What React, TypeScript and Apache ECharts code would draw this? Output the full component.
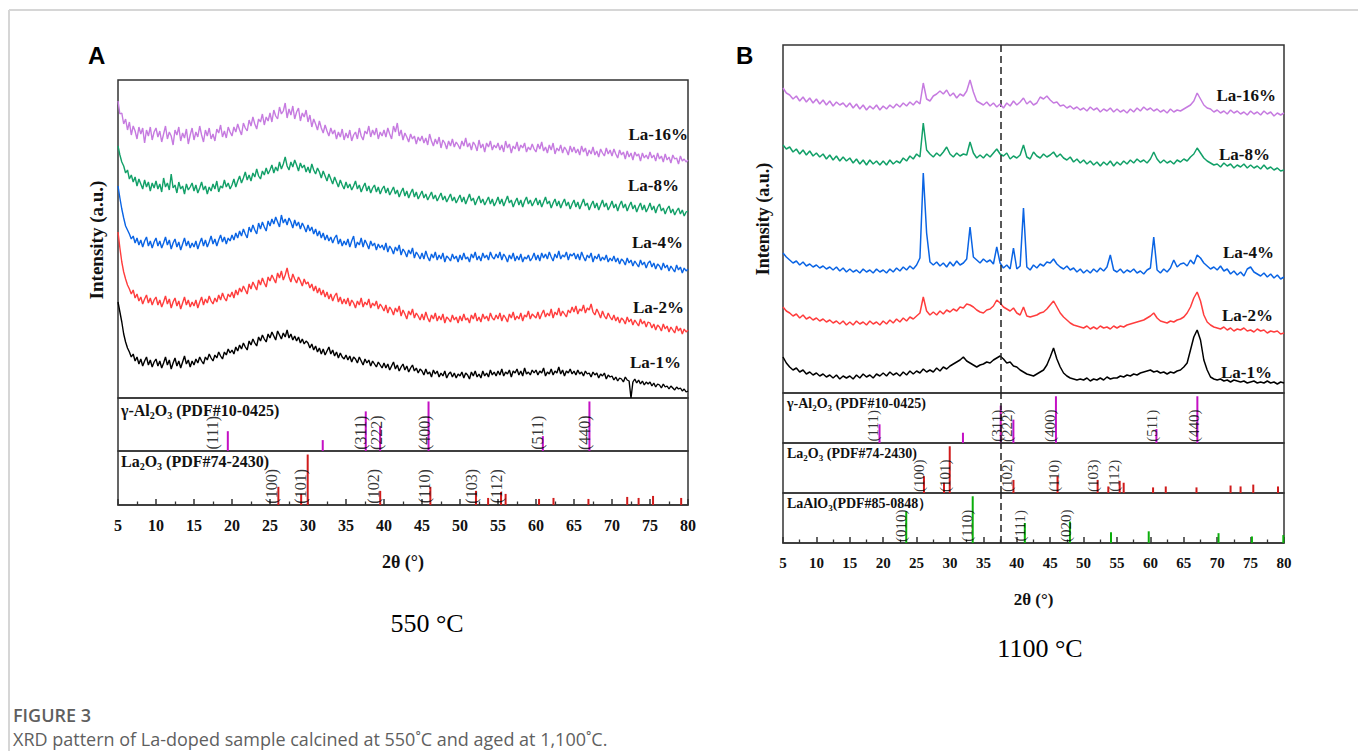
import { useEffect, useRef } from "react";
import * as echarts from "echarts";

// 2θ sampling: panel A every 0.25° from 5°, panel B every 0.5° from 5°
const TWO_THETA_START = 5;
const STEP_A = 0.25;
const STEP_B = 0.5;

// ---------- Panel A (550 °C), intensity in a.u. ----------
const aLa16 = [
  297, 284, 285, 274, 279, 268, 276, 263, 272, 267, 259, 271, 264, 270, 255, 268, 262, 271, 258, 266,
  270, 261, 267, 256, 264, 272, 259, 266, 262, 253, 268, 263, 271, 257, 265, 260, 269, 254, 263, 270,
  258, 266, 261, 272, 263, 256, 268, 262, 270, 259, 264, 257, 269, 265, 273, 261, 267, 260, 271, 266,
  262, 271, 266, 274, 268, 263, 275, 270, 267, 278, 272, 281, 274, 269, 279, 276, 284, 273, 281, 277,
  285, 276, 288, 282, 279, 291, 284, 287, 295, 280, 289, 283, 292, 279, 286, 290, 277, 285, 281, 288,
  276, 283, 271, 279, 274, 268, 277, 270, 265, 273, 267, 262, 270, 264, 268, 259, 266, 261, 269, 258,
  265, 260, 268, 257, 263, 266, 259, 270, 262, 258, 267, 264, 272, 261, 268, 263, 270, 259, 266, 262,
  268, 261, 270, 264, 259, 272, 266, 275, 262, 268, 258, 265, 261, 256, 264, 259, 262, 254, 261, 257,
  262, 255, 260, 253, 264, 257, 252, 259, 254, 261, 250, 258, 255, 249, 257, 252, 259, 251, 256, 253,
  249, 257, 252, 260, 251, 255, 248, 256, 253, 247, 258, 250, 254, 246, 255, 251, 257, 248, 253, 250,
  255, 248, 253, 246, 257, 250, 254, 245, 252, 249, 256, 247, 253, 250, 255, 246, 251, 248, 254, 249,
  246, 254, 249, 256, 247, 251, 245, 253, 248, 255, 244, 250, 247, 253, 245, 251, 248, 243, 252, 246,
  251, 245, 249, 243, 252, 246, 250, 242, 248, 244, 251, 243, 247, 241, 249, 245, 242, 250, 244, 248,
  242, 249, 244, 240, 248, 243, 246, 239, 247, 241, 245, 238, 246, 242, 244, 237, 245, 240, 243, 239,
  246, 240, 243, 237, 245, 239, 242, 236, 244, 238, 241, 235, 243, 239, 240, 234, 242, 237, 239, 236,
  238,
];
const aLa8 = [
  252, 243, 236, 232, 225, 228, 219, 223, 216, 221, 212, 219, 214, 209, 218, 211, 216, 207, 215, 210,
  217, 209, 214, 206, 220, 211, 215, 208, 224, 210, 213, 205, 216, 209, 212, 204, 214, 208, 211, 215,
  207, 213, 205, 210, 216, 208, 212, 204, 211, 207, 214, 209, 217, 206, 212, 210, 218, 211, 215, 209,
  213, 219, 211, 217, 222, 215, 220, 226, 218, 223, 217, 225, 221, 229, 222, 219, 227, 223, 230, 224,
  228, 233, 225, 231, 227, 236, 229, 234, 241, 232, 228, 236, 231, 238, 233, 227, 235, 230, 233, 226,
  231, 225, 234, 228, 224, 230, 226, 220, 227, 222, 217, 224, 219, 214, 221, 216, 211, 218, 213, 209,
  216, 210, 214, 208, 212, 217, 209, 213, 206, 211, 215, 207, 212, 205, 210, 213, 206, 211, 204, 209,
  212, 205, 210, 203, 207, 211, 204, 208, 201, 206, 210, 202, 207, 200, 205, 209, 201, 206, 199, 203,
  207, 200, 204, 198, 202, 206, 199, 203, 197, 201, 205, 198, 202, 196, 200, 204, 197, 201, 195, 199,
  203, 196, 201, 194, 199, 204, 197, 200, 193, 198, 202, 195, 199, 193, 197, 201, 194, 199, 192, 196,
  201, 194, 199, 192, 197, 202, 195, 198, 191, 196, 200, 193, 198, 191, 197, 201, 194, 198, 192, 196,
  200, 193, 198, 191, 196, 201, 194, 197, 190, 195, 199, 192, 197, 190, 195, 199, 192, 196, 189, 194,
  198, 191, 196, 189, 194, 199, 192, 195, 188, 193, 197, 190, 195, 188, 193, 198, 191, 195, 188, 192,
  197, 190, 194, 187, 193, 197, 190, 194, 187, 192, 196, 189, 193, 186, 191, 195, 188, 193, 186, 190,
  195, 188, 192, 185, 191, 194, 187, 190, 184, 189, 192, 185, 189, 183, 187, 190, 184, 188, 182, 186,
  187,
];
const aLa4 = [
  212, 200, 189, 180, 172, 168, 164, 159, 162, 155, 160, 153, 158, 151, 157, 161, 152, 157, 150, 156,
  160, 152, 157, 150, 155, 161, 153, 158, 149, 155, 159, 151, 156, 148, 154, 160, 152, 157, 150, 155,
  151, 157, 149, 155, 160, 152, 158, 151, 156, 162, 154, 159, 152, 158, 163, 156, 161, 154, 160, 157,
  163, 158, 165, 160, 167, 162, 169, 164, 160, 171, 166, 173, 168, 164, 175, 169, 176, 171, 167, 177,
  172, 179, 174, 181, 176, 171, 183, 175, 179, 173, 180, 176, 170, 178, 172, 176, 169, 175, 171, 166,
  173, 167, 171, 164, 169, 162, 167, 160, 165, 158, 163, 157, 161, 155, 160, 163, 154, 159, 152, 157,
  153, 159, 151, 157, 162, 150, 156, 153, 160, 151, 158, 154, 149, 157, 152, 155, 148, 154, 150, 153,
  148, 155, 146, 152, 149, 144, 151, 147, 153, 143, 149, 146, 141, 148, 144, 150, 140, 146, 143, 139,
  145, 139, 147, 141, 137, 144, 140, 146, 138, 143, 139, 145, 136, 142, 140, 137, 144, 139, 142, 136,
  143, 138, 145, 139, 141, 136, 144, 140, 146, 138, 142, 137, 145, 140, 143, 138, 146, 141, 139, 144,
  140, 146, 138, 144, 141, 136, 143, 139, 145, 137, 142, 138, 144, 136, 141, 139, 143, 137, 140, 145,
  138, 143, 137, 145, 140, 144, 139, 146, 141, 137, 144, 140, 147, 139, 143, 141, 146, 138, 144, 142,
  145, 139, 144, 138, 146, 141, 137, 143, 140, 145, 136, 142, 139, 144, 137, 141, 138, 143, 136, 140,
  137, 142, 136, 140, 134, 139, 137, 133, 140, 135, 138, 132, 137, 134, 131, 138, 133, 136, 130, 135,
  137, 131, 135, 129, 134, 132, 128, 135, 130, 133, 127, 132, 129, 126, 133, 128, 131, 125, 130, 127,
  129,
];
const aLa2 = [
  166, 150, 136, 126, 119, 113, 109, 104, 108, 100, 104, 97, 101, 94, 99, 103, 95, 100, 93, 98,
  101, 93, 98, 91, 96, 102, 94, 99, 90, 96, 100, 92, 97, 89, 95, 101, 93, 98, 91, 96,
  92, 98, 90, 96, 101, 93, 99, 95, 102, 97, 94, 100, 96, 103, 98, 105, 100, 97, 104, 101,
  106, 100, 108, 103, 110, 106, 112, 108, 104, 114, 109, 116, 112, 108, 118, 113, 120, 115, 111, 121,
  117, 123, 119, 115, 125, 120, 127, 118, 123, 130, 121, 116, 124, 119, 115, 121, 117, 112, 119, 114,
  116, 110, 114, 107, 112, 105, 110, 103, 108, 101, 106, 99, 104, 97, 102, 105, 96, 101, 94, 99,
  94, 100, 92, 98, 95, 90, 97, 93, 100, 91, 96, 93, 99, 90, 95, 92, 97, 89, 94, 91,
  87, 93, 85, 91, 88, 83, 90, 86, 92, 82, 88, 84, 79, 87, 83, 89, 80, 85, 82, 78,
  84, 78, 86, 80, 76, 83, 79, 85, 77, 82, 78, 84, 75, 81, 79, 76, 83, 78, 81, 75,
  82, 77, 84, 78, 80, 75, 83, 79, 85, 77, 81, 76, 84, 79, 82, 77, 85, 80, 78, 83,
  79, 85, 77, 83, 80, 76, 84, 80, 86, 78, 82, 79, 85, 77, 83, 81, 87, 79, 84, 82,
  80, 86, 79, 84, 88, 81, 85, 82, 89, 80, 86, 83, 90, 82, 87, 84, 81, 88, 85, 91,
  86, 92, 84, 89, 87, 93, 85, 90, 88, 94, 86, 83, 89, 85, 80, 87, 82, 79, 85, 81,
  78, 83, 77, 81, 75, 80, 78, 74, 81, 76, 79, 73, 78, 75, 72, 79, 74, 77, 71, 76,
  75, 70, 74, 68, 73, 71, 67, 74, 69, 72, 66, 71, 68, 65, 72, 67, 70, 64, 69, 66,
  68,
];
const aLa1 = [
  96, 86, 76, 64, 56, 50, 46, 41, 44, 37, 41, 34, 39, 32, 37, 41, 33, 38, 31, 36,
  39, 32, 37, 30, 35, 41, 33, 38, 29, 35, 40, 32, 37, 30, 36, 42, 34, 38, 31, 37,
  33, 39, 35, 41, 37, 34, 41, 38, 44, 40, 37, 43, 40, 46, 42, 39, 46, 43, 49, 45,
  48, 44, 51, 47, 53, 49, 55, 51, 48, 57, 53, 59, 55, 52, 61, 57, 63, 59, 56, 64,
  60, 66, 62, 58, 67, 63, 59, 65, 61, 68, 60, 64, 58, 62, 57, 61, 55, 59, 54, 57,
  55, 50, 54, 48, 52, 46, 50, 44, 49, 43, 47, 51, 44, 48, 42, 46, 40, 45, 41, 39,
  43, 38, 42, 36, 41, 39, 35, 41, 37, 33, 39, 35, 38, 32, 37, 34, 31, 36, 33, 30,
  35, 30, 34, 28, 32, 36, 29, 33, 27, 31, 34, 28, 32, 26, 30, 33, 27, 30, 25, 29,
  27, 23, 29, 24, 26, 21, 28, 24, 27, 21, 25, 22, 27, 20, 24, 26, 21, 25, 20, 24,
  22, 26, 20, 25, 23, 19, 26, 22, 27, 21, 24, 20, 27, 22, 25, 21, 28, 23, 26, 22,
  27, 23, 29, 22, 26, 24, 28, 21, 27, 25, 29, 23, 27, 22, 30, 24, 26, 23, 28, 25,
  28, 23, 27, 25, 30, 22, 26, 24, 29, 23, 27, 25, 31, 24, 28, 22, 27, 25, 29, 24,
  27, 23, 28, 24, 26, 22, 27, 24, 25, 21, 26, 23, 25, 20, 24, 22, 25, 19, 23, 21,
  22, 18, 21, 17, 20, 19, 16, 21, 18, 17, 0, 16, 19, 15, 18, 14, 17, 13, 16, 14,
  16, 12, 15, 11, 14, 13, 10, 14, 11, 12, 9, 12, 10, 8, 11, 9, 10, 7, 9, 6,
  7,
];

// ---------- Panel B (1100 °C), intensity in a.u. ----------
const bLa16 = [
  305, 300, 298, 294, 297, 292, 296, 291, 295, 290,
  294, 289, 293, 288, 292, 287, 291, 288, 290, 286,
  290, 285, 289, 284, 288, 283, 287, 284, 288, 283,
  287, 284, 288, 285, 289, 286, 290, 287, 291, 288,
  292, 289, 310, 294, 292, 297, 299, 302, 299, 303,
  297, 300, 295, 299, 297, 302, 313, 301, 292, 290,
  288, 291, 287, 290, 286, 289, 285, 290, 287, 292,
  288, 291, 295, 289, 292, 288, 290, 296, 294, 297,
  293, 290, 291, 287, 288, 285, 287, 284, 286, 283,
  285, 282, 286, 283, 285, 281, 284, 282, 285, 281,
  284, 281, 283, 280, 284, 281, 285, 282, 286, 283,
  285, 282, 284, 281, 283, 280, 284, 281, 283, 282,
  284, 286, 288, 292, 300, 294, 288, 285, 284, 281,
  283, 280, 282, 279, 283, 280, 282, 279, 281, 278,
  282, 279, 281, 278, 282, 279, 281, 277, 280, 278,
  280,
];
const bLa8 = [
  248, 244, 246, 241, 244, 239, 243, 238, 242, 237,
  240, 236, 239, 234, 238, 233, 237, 232, 236, 232,
  235, 230, 234, 229, 233, 228, 233, 229, 232, 228,
  232, 228, 233, 229, 232, 230, 235, 232, 237, 234,
  239, 236, 270, 243, 239, 236, 240, 237, 241, 246,
  239, 236, 240, 237, 239, 238, 251, 240, 235, 238,
  235, 239, 236, 240, 244, 239, 237, 240, 234, 237,
  235, 238, 248, 236, 234, 241, 237, 235, 239, 236,
  238, 241, 236, 239, 235, 233, 236, 231, 234, 230,
  233, 229, 232, 228, 231, 227, 231, 228, 232, 227,
  231, 228, 232, 229, 233, 230, 234, 231, 233, 230,
  234, 241, 234, 230, 233, 230, 232, 229, 233, 231,
  234, 232, 236, 239, 245, 240, 235, 232, 230, 228,
  229, 226, 230, 227, 229, 225, 228, 226, 229, 225,
  228, 225, 227, 224, 228, 224, 226, 223, 225, 222,
  223,
];
const bLa4 = [
  140, 136, 133, 130, 132, 128, 131, 127, 129, 126,
  128, 125, 127, 124, 126, 123, 126, 122, 125, 121,
  124, 121, 123, 120, 124, 121, 123, 120, 124, 121,
  123, 120, 124, 121, 125, 122, 126, 123, 127, 124,
  128, 135, 220, 160, 131, 128, 131, 127, 130, 126,
  131, 127, 132, 128, 130, 134, 166, 136, 133, 130,
  134, 131, 133, 129, 146, 130, 125, 128, 124, 145,
  124, 127, 185, 126, 123, 128, 125, 129, 127, 131,
  130, 134, 129, 126, 124, 127, 123, 125, 121, 124,
  120, 123, 120, 124, 121, 125, 122, 126, 138, 123,
  121, 124, 120, 123, 121, 124, 120, 122, 119, 123,
  125, 156, 123, 120, 124, 121, 125, 133, 126, 129,
  130, 127, 133, 129, 138, 135, 130, 127, 124, 126,
  123, 127, 122, 124, 119, 122, 118, 121, 117, 124,
  126, 121, 119, 117, 120, 116, 119, 115, 118, 114,
  116,
];
const bLa2 = [
  86, 82, 80, 77, 79, 75, 78, 74, 76, 73,
  75, 72, 74, 71, 73, 70, 72, 69, 72, 68,
  71, 68, 72, 69, 71, 68, 72, 69, 71, 68,
  72, 69, 73, 70, 74, 71, 75, 72, 76, 74,
  77, 80, 96, 82, 78, 81, 78, 82, 79, 83,
  81, 84, 82, 86, 85, 89, 88, 86, 83, 81,
  80, 83, 84, 87, 93, 90, 86, 84, 82, 85,
  80, 78, 86, 77, 76, 77, 78, 80, 81, 84,
  88, 92, 86, 80, 76, 73, 70, 68, 67, 66,
  65, 67, 64, 66, 64, 67, 65, 66, 64, 67,
  65, 67, 66, 68, 69, 70, 71, 72, 73, 75,
  77, 80, 75, 72, 71, 70, 72, 71, 73, 74,
  76, 80, 86, 95, 101, 92, 78, 71, 68, 66,
  65, 64, 66, 63, 65, 62, 64, 63, 65, 62,
  63, 61, 64, 62, 63, 60, 62, 61, 62, 59,
  60,
];
const bLa1 = [
  36, 30, 26, 23, 25, 21, 23, 19, 21, 18,
  20, 17, 19, 16, 18, 15, 18, 14, 17, 15,
  17, 14, 18, 15, 19, 16, 18, 15, 19, 17,
  20, 17, 21, 18, 20, 17, 21, 18, 22, 19,
  22, 20, 24, 21, 23, 21, 25, 22, 26, 24,
  27, 29, 31, 33, 36, 32, 30, 28, 26, 28,
  29, 31, 30, 33, 35, 37, 34, 30, 31, 27,
  26, 23, 21, 19, 18, 17, 19, 21, 23, 28,
  36, 45, 34, 26, 20, 17, 15, 14, 13, 14,
  13, 15, 12, 14, 13, 15, 13, 16, 14, 15,
  15, 17, 16, 18, 17, 19, 18, 20, 21, 22,
  23, 21, 22, 20, 21, 19, 21, 20, 22, 23,
  26, 30, 43, 56, 63, 53, 33, 23, 16, 14,
  13, 14, 12, 13, 11, 13, 12, 11, 12, 10,
  11, 12, 10, 11, 10, 12, 10, 11, 9, 11,
  10,
];

// ---------- Reference patterns: [2θ, relative intensity %] ----------
const gammaAl2O3Sticks = [
  [19.45, 40], [31.94, 22], [37.6, 80], [39.49, 50], [45.86, 100], [60.9, 30], [67.03, 100],
];
const la2O3Sticks = [
  [26.1, 36], [29.1, 22], [29.96, 100], [39.5, 28], [46.1, 36], [52.1, 28], [53.7, 14],
  [55.4, 26], [56.0, 22], [60.4, 12], [62.3, 14], [66.9, 12], [72.0, 16], [73.5, 14],
  [75.4, 18], [79.1, 14],
];
const laAlO3Sticks = [
  [23.45, 68], [33.4, 100], [41.2, 43], [47.95, 46], [54.1, 23], [59.75, 25],
  [70.2, 21], [75.2, 14], [79.9, 17],
];

// Miller-index labels: [text, 2θ where the label sits]
const gammaLabelsA = [["(111)", 17.4], ["(311)", 36.9], ["(222)", 39.0], ["(400)", 45.3], ["(511)", 60.2], ["(440)", 66.4]];
const la2O3LabelsA = [["(100)", 25.2], ["(101)", 29.0], ["(102)", 38.6], ["(110)", 45.3], ["(103)", 51.5], ["(112)", 54.8]];
const gammaLabelsB = [["(111)", 18.5], ["(311)", 37.0], ["(222)", 38.6], ["(400)", 45.0], ["(511)", 60.2], ["(440)", 66.5]];
const la2O3LabelsB = [["(100)", 25.4], ["(101)", 29.3], ["(102)", 38.5], ["(110)", 45.5], ["(103)", 51.4], ["(112)", 54.5]];
const laAlO3LabelsB = [["(010)", 22.6], ["(110)", 32.6], ["(111)", 40.5], ["(020)", 47.3]];

const sampleNames = ["La-16%", "La-8%", "La-4%", "La-2%", "La-1%"];
const xTickMin = 5;
const xTickMax = 80;
const xTickInterval = 5;
const dashedLine2Theta = 37.66;

const SERIF = "'Liberation Serif', 'Times New Roman', serif";
const SANS = "'Liberation Sans', Arial, sans-serif";
const COLORS = ["#c67be0", "#12a068", "#0a64e4", "#ff3d3d", "#000000"];
const GAMMA_COLOR = "#c410c4";
const LA2O3_COLOR = "#d01c1c";
const LAALO3_COLOR = "#0aae0a";

function toPairs(vals: number[], step: number) {
  return vals.map((v, i) => [TWO_THETA_START + i * step, v]);
}

export default function App() {
  const ref = useRef<HTMLDivElement>(null);

  useEffect(() => {
    document.body.style.margin = "0";
    if (!ref.current) return;
    const chart = echarts.init(ref.current, null, { renderer: "svg" });

    const grids = [
      { left: 118, top: 80, width: 570, height: 318 },
      { left: 118, top: 398, width: 570, height: 53 },
      { left: 118, top: 451, width: 570, height: 54 },
      { left: 783, top: 45, width: 501, height: 348 },
      { left: 783, top: 393, width: 501, height: 50 },
      { left: 783, top: 443, width: 501, height: 50 },
      { left: 783, top: 493, width: 501, height: 50 },
    ].map((g) => ({ ...g, show: true, borderColor: "#333", borderWidth: 1.5, backgroundColor: "transparent" }));

    const bottomAxes: Record<number, { font: number; name: number }> = { 2: { font: 16, name: 18 }, 6: { font: 15, name: 17 } };
    const xAxis = grids.map((_, i) => {
      const b = bottomAxes[i];
      return {
        type: "value",
        gridIndex: i,
        min: xTickMin,
        max: xTickMax,
        interval: xTickInterval,
        show: !!b,
        name: b ? "2θ (°)" : "",
        nameLocation: "middle",
        nameGap: 48,
        nameTextStyle: { fontFamily: SERIF, fontWeight: "bold", fontSize: b ? b.name : 12, color: "#111" },
        axisLine: { show: true, lineStyle: { color: "#333", width: 1.5 } },
        axisTick: { show: true, inside: true, length: 6, lineStyle: { color: "#333", width: 1.5 } },
        minorTick: { show: true, splitNumber: 2, length: 3.5, lineStyle: { color: "#333", width: 1.3 } },
        splitLine: { show: false },
        axisLabel: { show: true, margin: 12, fontFamily: SERIF, fontWeight: "bold", fontSize: b ? b.font : 12, color: "#111" },
      };
    });
    const yMax = [318, 107, 107, 348, 107, 107, 107];
    const yAxis = yMax.map((m, i) => ({ type: "value", gridIndex: i, min: 0, max: m, show: false }));

    const dashedMark = {
      silent: true,
      symbol: ["none", "none"],
      label: { show: false },
      lineStyle: { type: [7, 4], color: "#222", width: 1.5 },
      data: [{ xAxis: dashedLine2Theta }],
    };

    const series: any[] = [];
    const aData = [aLa16, aLa8, aLa4, aLa2, aLa1];
    const bData = [bLa16, bLa8, bLa4, bLa2, bLa1];
    aData.forEach((d, k) =>
      series.push({
        type: "line", name: "A " + sampleNames[k], xAxisIndex: 0, yAxisIndex: 0, data: toPairs(d, STEP_A),
        showSymbol: false, lineStyle: { color: COLORS[k], width: 1.4 }, itemStyle: { color: COLORS[k] }, z: 5 - k,
      })
    );
    bData.forEach((d, k) =>
      series.push({
        type: "line", name: "B " + sampleNames[k], xAxisIndex: 3, yAxisIndex: 3, data: toPairs(d, STEP_B),
        showSymbol: false, lineStyle: { color: COLORS[k], width: 1.5 }, itemStyle: { color: COLORS[k] }, z: 5 - k,
        markLine: k === 0 ? dashedMark : undefined,
      })
    );

    const stickSeries = (data: number[][], idx: number, color: string, dashed: boolean) => ({
      type: "bar", xAxisIndex: idx, yAxisIndex: idx, data, barWidth: 2,
      itemStyle: { color }, markLine: dashed ? dashedMark : undefined, z: 3,
    });
    const labelSeries = (labels: (string | number)[][], idx: number, size: number) => ({
      type: "scatter", xAxisIndex: idx, yAxisIndex: idx, symbolSize: 1, itemStyle: { color: "transparent" },
      data: labels.map(([t, x]) => ({ name: t, value: [x, 37] })),
      label: { show: true, formatter: "{b}", rotate: 90, position: "inside", fontFamily: SERIF, fontSize: size, color: "#000" },
      z: 6,
    });

    series.push(stickSeries(gammaAl2O3Sticks, 1, GAMMA_COLOR, false));
    series.push(stickSeries(la2O3Sticks, 2, LA2O3_COLOR, false));
    series.push(stickSeries(gammaAl2O3Sticks, 4, GAMMA_COLOR, true));
    series.push(stickSeries(la2O3Sticks, 5, LA2O3_COLOR, true));
    series.push(stickSeries(laAlO3Sticks, 6, LAALO3_COLOR, true));
    series.push(labelSeries(gammaLabelsA, 1, 16));
    series.push(labelSeries(la2O3LabelsA, 2, 16));
    series.push(labelSeries(gammaLabelsB, 4, 15));
    series.push(labelSeries(la2O3LabelsB, 5, 15));
    series.push(labelSeries(laAlO3LabelsB, 6, 15));

    const txt = (x: number, y: number, text: string, o: any = {}) => ({
      type: "text", x, y, rotation: o.rotation || 0, z: 10,
      style: {
        text, fill: o.fill || "#111",
        fontFamily: o.fontFamily || SERIF, fontSize: o.fontSize || 16, fontWeight: o.fontWeight || "normal",
        align: o.align || "left", textAlign: o.align || "left",
        verticalAlign: "middle", textVerticalAlign: "middle",
        rich: o.rich,
      },
    });
    const formula = (x: number, y: number, parts: [string, boolean][], size: number) => {
      const rich = {
        n: { fontFamily: SERIF, fontWeight: "bold", fontSize: size, lineHeight: size + 4, fill: "#111" },
        s: { fontFamily: SERIF, fontWeight: "bold", fontSize: Math.round(size * 0.65), lineHeight: Math.round(size * 0.65) + 2, verticalAlign: "bottom", fill: "#111" },
      };
      const text = parts.map(([t, sub]) => `{${sub ? "s" : "n"}|${t}}`).join("");
      return txt(x, y, text, { rich, fontSize: size, fontWeight: "bold" });
    };

    const aLabelPos = [[688, 134], [679, 185], [683, 242], [684, 307], [681, 362]];
    const bLabelPos = [[1276, 95], [1270, 154], [1274, 252], [1273, 315], [1272, 372]];

    const graphic: any[] = [
      { type: "line", shape: { x1: 9, y1: 10, x2: 1358, y2: 10 }, style: { stroke: "#d6d6d6", lineWidth: 2 } },
      { type: "line", shape: { x1: 9, y1: 10, x2: 9, y2: 751 }, style: { stroke: "#d6d6d6", lineWidth: 2 } },
      txt(88, 55, "A", { fontFamily: SANS, fontWeight: "bold", fontSize: 24, fill: "#000" }),
      txt(736, 55, "B", { fontFamily: SANS, fontWeight: "bold", fontSize: 24, fill: "#000" }),
      txt(96, 240, "Intensity (a.u.)", { fontWeight: "bold", fontSize: 19, align: "center", rotation: Math.PI / 2 }),
      txt(763, 219, "Intensity (a.u.)", { fontWeight: "bold", fontSize: 18, align: "center", rotation: Math.PI / 2 }),
      ...sampleNames.map((n, k) => txt(aLabelPos[k][0], aLabelPos[k][1], n, { fontWeight: "bold", fontSize: 17, align: "right" })),
      ...sampleNames.map((n, k) => txt(bLabelPos[k][0], bLabelPos[k][1], n, { fontWeight: "bold", fontSize: 17, align: "right" })),
      formula(121, 410, [["γ-Al", false], ["2", true], ["O", false], ["3", true], [" (PDF#10-0425)", false]], 16),
      formula(121, 461, [["La", false], ["2", true], ["O", false], ["3", true], [" (PDF#74-2430)", false]], 16),
      formula(787, 403, [["γ-Al", false], ["2", true], ["O", false], ["3", true], [" (PDF#10-0425)", false]], 14),
      formula(787, 453, [["La", false], ["2", true], ["O", false], ["3", true], [" (PDF#74-2430)", false]], 14),
      formula(787, 503, [["LaAlO", false], ["3", true], ["(PDF#85-0848", false], ["）", false]], 14),
      txt(427, 623, "550 °C", { fontSize: 26, align: "center", fill: "#000" }),
      txt(1040, 648, "1100 °C", { fontSize: 26, align: "center", fill: "#000" }),
      txt(13, 715, "FIGURE 3", { fontFamily: "'Open Sans', sans-serif", fontWeight: 600, fontSize: 18, fill: "#5f5f5f" }),
      txt(13, 739, "XRD pattern of La-doped sample calcined at 550˚C and aged at 1,100˚C.", { fontFamily: "'Open Sans', sans-serif", fontSize: 18, fill: "#5f5f5f" }),
    ];

    chart.setOption({
      animation: false,
      backgroundColor: "#fff",
      grid: grids,
      xAxis,
      yAxis,
      series,
      graphic,
    });
    return () => chart.dispose();
  }, []);

  return <div ref={ref} style={{ width: 1358, height: 751 }} />;
}
